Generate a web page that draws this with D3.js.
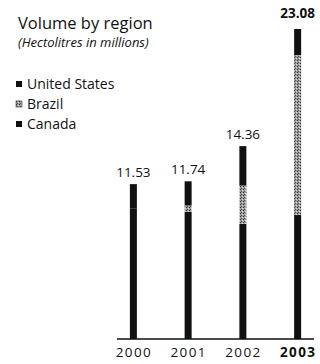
<!DOCTYPE html>
<html lang="en">
<head>
<meta charset="utf-8">
<title>Volume by region</title>
<script src="https://cdn.jsdelivr.net/npm/d3@7"></script>
<style>
  body { margin: 0; background: #fff; }
  svg { display: block; font-family: "Open Sans", sans-serif; }
</style>
</head>
<body>
<svg width="320" height="364"></svg>
<script>
// data (segments estimated, totals from labels)
const years = ["2000", "2001", "2002", "2003"];
const canada = [9.70, 9.47, 8.57, 9.23];
const brazil = [0.00, 0.47, 2.86, 11.91];
const unitedStates = [1.83, 1.80, 2.93, 1.94];
const totals = [11.53, 11.74, 14.36, 23.08];
const totalLabels = ["11.53", "11.74", "14.36", "23.08"];
const legendNames = ["United States", "Brazil", "Canada"];

const svg = d3.select("svg");
const baseY = 339;

// halftone grey for Brazil
const defs = svg.append("defs");
const pat = defs.append("pattern")
  .attr("id", "dots")
  .attr("width", 3).attr("height", 3)
  .attr("patternUnits", "userSpaceOnUse");
pat.append("rect").attr("width", 3).attr("height", 3).attr("fill", "#9c9c9c");
pat.append("rect").attr("x", 0).attr("y", 0).attr("width", 1).attr("height", 1).attr("fill", "#333");
pat.append("rect").attr("x", 2).attr("y", 1).attr("width", 1).attr("height", 1).attr("fill", "#ddd");
pat.append("rect").attr("x", 1).attr("y", 2).attr("width", 1).attr("height", 1).attr("fill", "#555");

const fills = {
  "Canada": "#111",
  "Brazil": "url(#dots)",
  "United States": "#111"
};

const rows = years.map((y, i) => ({
  year: y,
  "Canada": canada[i],
  "Brazil": brazil[i],
  "United States": unitedStates[i]
}));

const stack = d3.stack().keys(["Canada", "Brazil", "United States"]);
const series = stack(rows);

const x = d3.scalePoint().domain(years).range([106, 325]).padding(0.5);
const y = d3.scaleLinear().domain([0, d3.max(totals)]).range([baseY, 29]);
const barW = 7;

// title
svg.append("text")
  .attr("x", 18).attr("y", 29)
  .attr("font-size", 16.5)
  .attr("fill", "#111")
  .text("Volume by region");
svg.append("text")
  .attr("x", 18).attr("y", 47)
  .attr("font-size", 13)
  .attr("font-style", "italic")
  .attr("fill", "#111")
  .text("(Hectolitres in millions)");

// legend
const leg = svg.append("g").selectAll("g")
  .data(legendNames).enter().append("g")
  .attr("transform", (d, i) => `translate(16, ${84 + i * 20})`);
leg.append("rect")
  .attr("x", 0).attr("y", -3)
  .attr("width", 6).attr("height", 6)
  .attr("fill", d => fills[d])
  .attr("stroke", d => d === "Brazil" ? "#333" : "none")
  .attr("stroke-width", 0.6);
leg.append("text")
  .attr("x", 11).attr("y", 0)
  .attr("dy", "0.35em")
  .attr("font-size", 14)
  .attr("fill", "#111")
  .text(d => d);

// bars
svg.append("g").selectAll("g")
  .data(series).enter().append("g")
  .attr("fill", d => fills[d.key])
  .selectAll("rect")
  .data(d => d).enter().append("rect")
  .attr("x", d => x(d.data.year) - barW / 2)
  .attr("y", d => y(d[1]))
  .attr("width", barW)
  .attr("height", d => y(d[0]) - y(d[1]));

// total labels
svg.append("g").selectAll("text")
  .data(years).enter().append("text")
  .attr("x", d => x(d))
  .attr("y", (d, i) => y(totals[i]) - (i === 3 ? 11 : 7))
  .attr("text-anchor", "middle")
  .attr("font-size", 13.5)
  .attr("font-weight", (d, i) => i === 3 ? 700 : 400)
  .attr("fill", "#111")
  .text((d, i) => totalLabels[i]);

// baseline
svg.append("line")
  .attr("x1", 117).attr("x2", 314)
  .attr("y1", baseY).attr("y2", baseY)
  .attr("stroke", "#111")
  .attr("stroke-width", 1.5);

// year labels
const xAxis = d3.axisBottom(x).tickSize(0).tickPadding(8);
const xAxisG = svg.append("g")
  .attr("transform", `translate(0, ${baseY})`)
  .call(xAxis);
xAxisG.select(".domain").remove();
xAxisG.selectAll("text")
  .attr("font-family", "Open Sans, sans-serif")
  .attr("font-size", 13.5)
  .attr("letter-spacing", 1.3)
  .attr("fill", "#111")
  .attr("font-weight", d => d === "2003" ? 700 : 400);
</script>
</body>
</html>
